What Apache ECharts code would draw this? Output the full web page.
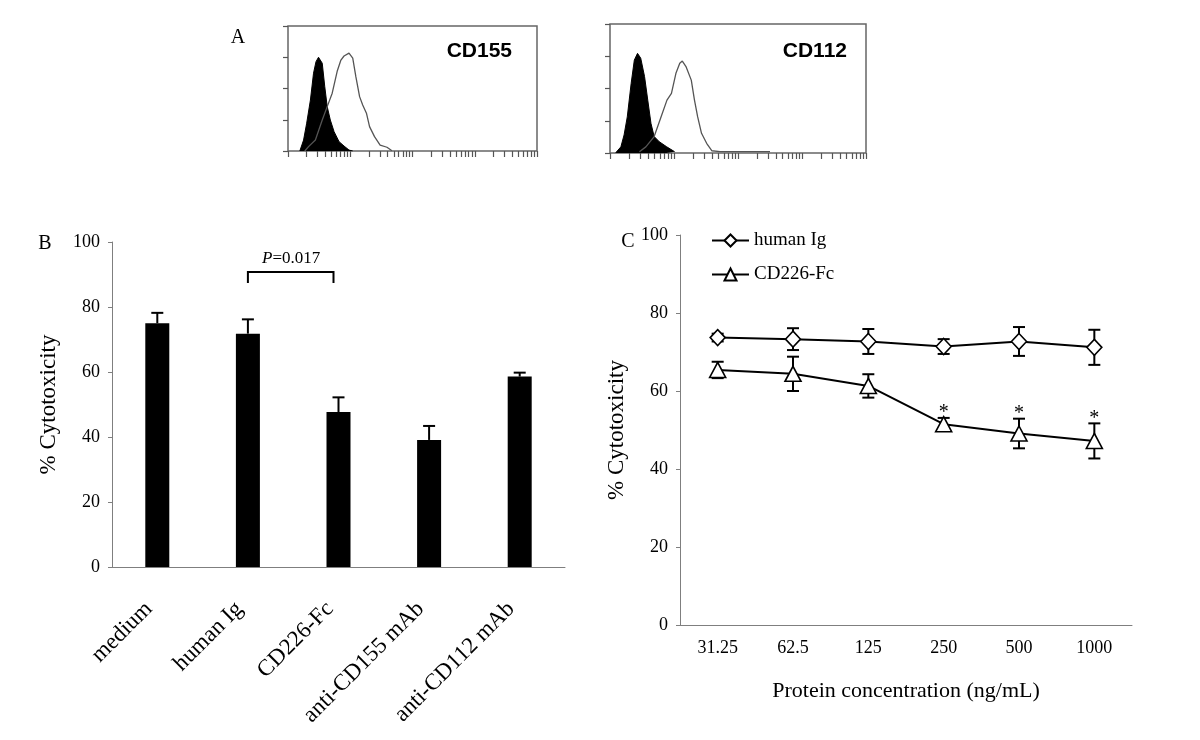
<!DOCTYPE html>
<html>
<head>
<meta charset="utf-8">
<script src="https://cdn.jsdelivr.net/npm/echarts@6/dist/echarts.min.js"></script>
<style>
  html, body { margin: 0; padding: 0; background: #fff; }
  #main { width: 1200px; height: 740px; }
</style>
</head>
<body>
<div id="main"></div>
<script>
// panel A: flow histograms, x in log decades (0..4), y in tick units (0..4)
var cd155Isotype = [[0.19, 0], [0.25, 0.35], [0.30, 0.89], [0.36, 1.63], [0.41, 2.49], [0.45, 2.86], [0.49, 3.0],
  [0.55, 2.81], [0.59, 2.07], [0.63, 1.42], [0.68, 0.99], [0.74, 0.62], [0.82, 0.30], [0.90, 0.16], [0.98, 0.03], [1.04, 0]];
var cd155Stained = [[0.27, 0], [0.33, 0.14], [0.44, 0.35], [0.55, 0.99], [0.63, 1.42], [0.71, 1.85], [0.79, 2.55],
  [0.85, 2.91], [0.90, 3.04], [0.98, 3.13], [1.04, 2.97], [1.09, 2.38], [1.15, 1.74], [1.20, 1.47], [1.26, 1.21],
  [1.31, 0.78], [1.39, 0.46], [1.48, 0.19], [1.59, 0.12], [1.67, 0.01]];
var cd112Isotype = [[0.09, 0.01], [0.17, 0.19], [0.22, 0.56], [0.27, 1.12], [0.33, 2.15], [0.38, 2.88], [0.43, 3.09],
  [0.48, 2.94], [0.54, 2.37], [0.59, 1.64], [0.64, 0.92], [0.69, 0.51], [0.77, 0.35], [0.88, 0.20], [1.01, 0.04]];
var cd112Stained = [[0.46, 0.04], [0.56, 0.19], [0.69, 0.51], [0.80, 1.13], [0.89, 1.64], [0.96, 1.85], [1.03, 2.47],
  [1.09, 2.78], [1.13, 2.85], [1.19, 2.67], [1.27, 2.26], [1.32, 1.64], [1.37, 1.12], [1.43, 0.61], [1.51, 0.30],
  [1.59, 0.07], [1.72, 0.04], [2.5, 0.04]];

// log tick marks 1..9 per decade
var logTicks = [];
for (var d = 0; d < 4; d++) {
  for (var k = 1; k < 10; k++) logTicks.push(d + Math.log10(k));
}
logTicks.push(4);

// panel B
var bCategories = ['medium', 'human Ig', 'CD226-Fc', 'anti-CD155 mAb', 'anti-CD112 mAb'];
var bMeans = [75.0, 71.8, 47.7, 39.1, 58.6];
var bErrors = [3.2, 4.4, 4.5, 4.3, 1.2];

// panel C
var cCategories = ['31.25', '62.5', '125', '250', '500', '1000'];
var humanIg = [73.7, 73.3, 72.7, 71.4, 72.7, 71.2];
var humanIgErr = [1.0, 2.8, 3.2, 1.9, 3.7, 4.5];
var cd226Fc = [65.4, 64.4, 61.3, 51.5, 49.1, 47.2];
var cd226FcErr = [2.1, 4.4, 3.0, 1.6, 3.8, 4.5];
var stars = ['', '', '', '*', '*', '*'];

var serif = '"Liberation Serif", "Times New Roman", serif';
var axisGrey = '#7f7f7f';

var myChart = echarts.init(document.getElementById('main'));

function histXAxis(idx) {
  return {
    gridIndex: idx, type: 'value', min: 0, max: 4,
    axisLine: { show: false },
    axisTick: { show: true, length: 6, inside: false, customValues: logTicks, lineStyle: { color: '#555', width: 1.2 } },
    axisLabel: { show: false }, splitLine: { show: false }
  };
}
function histYAxis(idx) {
  return {
    gridIndex: idx, type: 'value', min: 0, max: 4, interval: 1,
    axisLine: { show: false },
    axisTick: { show: true, length: 5, lineStyle: { color: '#555', width: 1.2 } },
    axisLabel: { show: false }, splitLine: { show: false }
  };
}

function errorBars(means, errs, upOnly, starLabels) {
  return function (params, api) {
    var i = api.value(0);
    var m = api.value(1);
    var e = api.value(2);
    var top = api.coord([i, m + e]);
    var bottom = api.coord([i, upOnly ? m : m - e]);
    var half = 6;
    var style = { stroke: '#000', lineWidth: 2 };
    var children = [
      { type: 'line', shape: { x1: top[0], y1: top[1], x2: bottom[0], y2: bottom[1] }, style: style },
      { type: 'line', shape: { x1: top[0] - half, y1: top[1], x2: top[0] + half, y2: top[1] }, style: style }
    ];
    if (!upOnly) {
      children.push({ type: 'line', shape: { x1: bottom[0] - half, y1: bottom[1], x2: bottom[0] + half, y2: bottom[1] }, style: style });
    }
    if (starLabels && starLabels[params.dataIndex]) {
      children.push({
        type: 'text',
        style: { x: top[0], y: top[1] + 5, text: starLabels[params.dataIndex], font: '20px ' + serif, fill: '#000', align: 'center', verticalAlign: 'bottom' }
      });
    }
    return { type: 'group', children: children };
  };
}

var option = {
  backgroundColor: '#fff',
  animation: false,
  graphic: [
    { type: 'text', style: { x: 238, y: 38, text: 'A', font: '20px ' + serif, fill: '#000', align: 'center', verticalAlign: 'middle' } },
    { type: 'text', style: { x: 45, y: 244, text: 'B', font: '20px ' + serif, fill: '#000', align: 'center', verticalAlign: 'middle' } },
    { type: 'text', style: { x: 628, y: 242, text: 'C', font: '20px ' + serif, fill: '#000', align: 'center', verticalAlign: 'middle' } },
    { type: 'text', style: { x: 512, y: 51, text: 'CD155', font: 'bold 21px "Liberation Sans", Arial, sans-serif', fill: '#000', align: 'right', verticalAlign: 'middle' } },
    { type: 'text', style: { x: 847, y: 51, text: 'CD112', font: 'bold 21px "Liberation Sans", Arial, sans-serif', fill: '#000', align: 'right', verticalAlign: 'middle' } }
  ],
  legend: {
    orient: 'vertical',
    left: 711, top: 231, padding: 0,
    itemWidth: 37, itemHeight: 15, itemGap: 15,
    textStyle: { fontFamily: serif, fontSize: 19, color: '#000' },
    data: ['human Ig', 'CD226-Fc']
  },
  grid: [
    { left: 288, top: 26, width: 249, height: 125, show: true, borderColor: '#666', borderWidth: 1.5, backgroundColor: 'transparent' },
    { left: 610, top: 24, width: 256, height: 129, show: true, borderColor: '#666', borderWidth: 1.5, backgroundColor: 'transparent' },
    { left: 112, top: 242, width: 453, height: 325 },
    { left: 680, top: 235, width: 452, height: 390 }
  ],
  xAxis: [
    histXAxis(0),
    histXAxis(1),
    {
      gridIndex: 2, type: 'category', data: bCategories, boundaryGap: true,
      axisLine: { lineStyle: { color: axisGrey, width: 1 } },
      axisTick: { inside: true, length: 8, lineStyle: { color: axisGrey } },
      axisLabel: { interval: 0, rotate: 45, margin: 30, padding: [0, 12, 0, 0], fontFamily: serif, fontSize: 23, color: '#000' },
      splitLine: { show: false }
    },
    {
      gridIndex: 3, type: 'category', data: cCategories, boundaryGap: true,
      name: 'Protein concentration (ng/mL)', nameLocation: 'middle', nameGap: 55,
      nameTextStyle: { fontFamily: serif, fontSize: 22, color: '#000' },
      axisLine: { lineStyle: { color: axisGrey, width: 1 } },
      axisTick: { inside: true, length: 5, lineStyle: { color: axisGrey } },
      axisLabel: { interval: 0, margin: 14, fontFamily: serif, fontSize: 18, color: '#000' },
      splitLine: { show: false }
    }
  ],
  yAxis: [
    histYAxis(0),
    histYAxis(1),
    {
      gridIndex: 2, type: 'value', min: 0, max: 100, interval: 20,
      name: '% Cytotoxicity', nameLocation: 'middle', nameGap: 52, nameRotate: 90,
      nameTextStyle: { fontFamily: serif, fontSize: 23, color: '#000' },
      axisLine: { show: true, lineStyle: { color: axisGrey, width: 1 } },
      axisTick: { show: true, length: 4, lineStyle: { color: axisGrey } },
      axisLabel: { margin: 12, fontFamily: serif, fontSize: 18, color: '#000' },
      splitLine: { show: false }
    },
    {
      gridIndex: 3, type: 'value', min: 0, max: 100, interval: 20,
      name: '% Cytotoxicity', nameLocation: 'middle', nameGap: 52, nameRotate: 90,
      nameTextStyle: { fontFamily: serif, fontSize: 23, color: '#000' },
      axisLine: { show: true, lineStyle: { color: axisGrey, width: 1 } },
      axisTick: { show: true, length: 4, lineStyle: { color: axisGrey } },
      axisLabel: { margin: 12, fontFamily: serif, fontSize: 18, color: '#000' },
      splitLine: { show: false }
    }
  ],
  series: [
    { type: 'line', xAxisIndex: 0, yAxisIndex: 0, data: cd155Isotype, symbol: 'none', silent: true,
      lineStyle: { color: '#000', width: 1 }, areaStyle: { color: '#000', opacity: 1 } },
    { type: 'line', xAxisIndex: 0, yAxisIndex: 0, data: cd155Stained, symbol: 'none', silent: true,
      lineStyle: { color: '#555', width: 1.3 } },
    { type: 'line', xAxisIndex: 1, yAxisIndex: 1, data: cd112Isotype, symbol: 'none', silent: true,
      lineStyle: { color: '#000', width: 1 }, areaStyle: { color: '#000', opacity: 1 } },
    { type: 'line', xAxisIndex: 1, yAxisIndex: 1, data: cd112Stained, symbol: 'none', silent: true,
      lineStyle: { color: '#555', width: 1.3 } },

    { type: 'bar', xAxisIndex: 2, yAxisIndex: 2, data: bMeans, barWidth: 24, itemStyle: { color: '#000' } },
    { type: 'custom', xAxisIndex: 2, yAxisIndex: 2, z: 3,
      data: bMeans.map(function (m, i) { return [i, m, bErrors[i]]; }),
      renderItem: errorBars(bMeans, bErrors, true) },
    { type: 'custom', xAxisIndex: 2, yAxisIndex: 2, z: 3,
      data: [[1, 2, 90.8, 3.4, 'P=0.017']],
      renderItem: function (params, api) {
        var a = api.coord([api.value(0), api.value(2)]);
        var b = api.coord([api.value(1), api.value(2)]);
        var drop = api.coord([api.value(0), api.value(2) - api.value(3)])[1];
        var style = { stroke: '#000', lineWidth: 2, fill: null };
        return { type: 'group', children: [
          { type: 'polyline', shape: { points: [[a[0], drop], [a[0], a[1]], [b[0] - 5, b[1]], [b[0] - 5, drop]] }, style: style },
          { type: 'text', style: { x: (a[0] + b[0]) / 2 - 2, y: a[1] - 13, text: '{i|P}=0.017',
            rich: { i: { fontStyle: 'italic', fontFamily: serif, fontSize: 17 } },
            font: '17px ' + serif, fill: '#000', align: 'center', verticalAlign: 'middle' } }
        ] };
      } },

    { name: 'human Ig', type: 'line', xAxisIndex: 3, yAxisIndex: 3, data: humanIg, z: 5,
      symbol: 'diamond', symbolSize: [15, 16],
      lineStyle: { color: '#000', width: 2 },
      itemStyle: { color: '#fff', borderColor: '#000', borderWidth: 1.6 } },
    { name: 'CD226-Fc', type: 'line', xAxisIndex: 3, yAxisIndex: 3, data: cd226Fc, z: 5,
      symbol: 'triangle', symbolSize: [16, 15],
      lineStyle: { color: '#000', width: 2 },
      itemStyle: { color: '#fff', borderColor: '#000', borderWidth: 1.6 } },
    { type: 'custom', xAxisIndex: 3, yAxisIndex: 3, z: 3,
      data: humanIg.map(function (m, i) { return [i, m, humanIgErr[i]]; }),
      renderItem: errorBars(humanIg, humanIgErr, false) },
    { type: 'custom', xAxisIndex: 3, yAxisIndex: 3, z: 3,
      data: cd226Fc.map(function (m, i) { return [i, m, cd226FcErr[i]]; }),
      renderItem: errorBars(cd226Fc, cd226FcErr, false, stars) }
  ]
};

myChart.setOption(option);
</script>
</body>
</html>
